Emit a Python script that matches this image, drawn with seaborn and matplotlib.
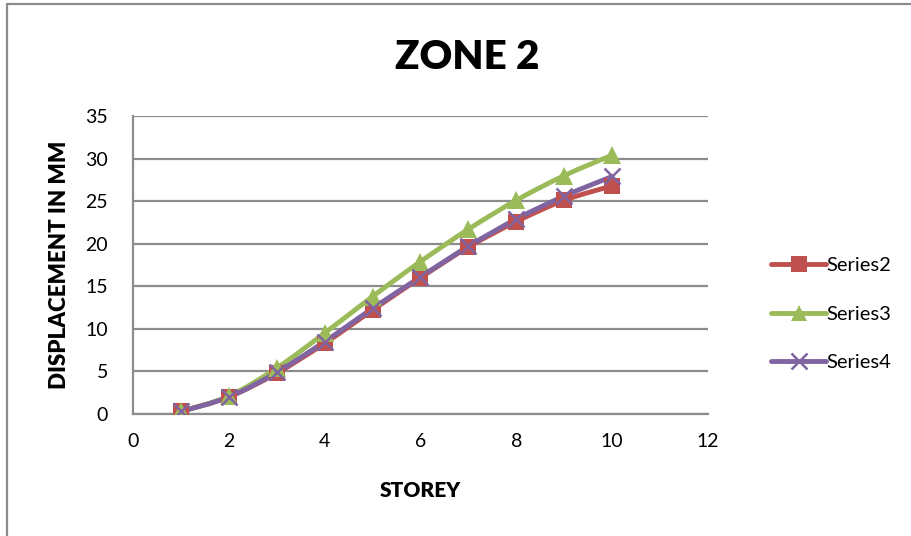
import numpy as np
import pandas as pd
import matplotlib
matplotlib.use("Agg")
import matplotlib.pyplot as plt
from matplotlib.path import Path
from matplotlib.patches import PathPatch
from matplotlib.lines import Line2D
import seaborn as sns

# Storey-wise displacement (mm) for ZONE 2
storey = [1, 2, 3, 4, 5, 6, 7, 8, 9, 10]
series2 = [0.3, 2.0, 4.8, 8.3, 12.2, 16.0, 19.6, 22.6, 25.1, 26.8]
series3 = [0.3, 2.1, 5.4, 9.5, 13.8, 17.9, 21.7, 25.1, 28.0, 30.4]
series4 = [0.3, 2.0, 4.9, 8.5, 12.4, 16.1, 19.7, 22.9, 25.6, 27.9]

names = ["Series2", "Series3", "Series4"]
colors = {"Series2": "#C0504D", "Series3": "#9BBB59", "Series4": "#8064A2"}
markers = {"Series2": "s", "Series3": "^", "Series4": "x"}
msizes = {"Series2": 12, "Series3": 13, "Series4": 12}

df = pd.DataFrame({
    "Storey": storey * 3,
    "Displacement": series2 + series3 + series4,
    "Series": [n for n in names for _ in storey],
})

sns.set_theme(style="white")
plt.rcParams["font.family"] = ["Lato", "DejaVu Sans"]
plt.rcParams["text.color"] = "black"

fig = plt.figure(figsize=(9.12, 5.36), dpi=100)
ax = fig.add_axes([0.1458, 0.2276, 0.6305, 0.556])

def smooth_path(xs, ys, tension=1 / 6):
    """Cubic Bezier path through the points (Catmull-Rom style control points)."""
    pts = np.column_stack([xs, ys]).astype(float)
    verts = [pts[0]]
    codes = [Path.MOVETO]
    n = len(pts)
    for i in range(n - 1):
        p0 = pts[i - 1] if i > 0 else pts[i]
        p1 = pts[i]
        p2 = pts[i + 1]
        p3 = pts[i + 2] if i + 2 < n else pts[i + 1]
        c1 = p1 + (p2 - p0) * tension
        c2 = p2 - (p3 - p1) * tension
        verts += [c1, c2, p2]
        codes += [Path.CURVE4] * 3
    return Path(verts, codes)

LW = 3.5

# smoothed connecting lines
for name in names:
    sub = df[df["Series"] == name]
    patch = PathPatch(smooth_path(sub["Storey"].values, sub["Displacement"].values),
                      facecolor="none", edgecolor=colors[name], lw=LW,
                      capstyle="round", joinstyle="round", zorder=3)
    ax.add_patch(patch)

# point markers
for name in names:
    sub = df[df["Series"] == name]
    kw = dict(color=colors[name], linestyle="none", marker=markers[name],
              markersize=msizes[name], markerfacecolor=colors[name],
              markeredgecolor=colors[name], zorder=4)
    kw["markeredgewidth"] = 1.8 if markers[name] == "x" else 0
    sns.lineplot(data=sub, x="Storey", y="Displacement", ax=ax,
                 legend=False, errorbar=None, **kw)

ax.set_xlim(0, 12)
ax.set_ylim(0, 35)
ax.set_xticks(range(0, 13, 2))
ax.set_yticks(range(0, 36, 5))
ax.yaxis.grid(True, color="#8C8C8C", lw=1.6)
ax.xaxis.grid(False)
ax.set_axisbelow(True)
for side in ["top", "right"]:
    ax.spines[side].set_visible(False)
for side in ["left", "bottom"]:
    ax.spines[side].set_color("#8C8C8C")
    ax.spines[side].set_linewidth(1.6)
ax.tick_params(axis="both", length=0, labelsize=14, colors="black")
ax.tick_params(axis="y", pad=18)
ax.tick_params(axis="x", pad=14)

ax.set_xlabel("STOREY", fontsize=15, fontweight="heavy", labelpad=22, color="black")
ax.set_ylabel("DISPLACEMENT IN MM", fontsize=16, fontweight="heavy", labelpad=11,
              color="black")

fig.text(0.512, 0.893, "ZONE 2", ha="center", va="center",
         fontsize=29, fontweight="heavy", color="black")

handles = [Line2D([0], [0], color=colors[n], lw=LW, marker=markers[n],
                  markersize=msizes[n] - 1, markerfacecolor=colors[n],
                  markeredgecolor=colors[n],
                  markeredgewidth=1.8 if markers[n] == "x" else 0)
           for n in names]
leg = fig.legend(handles, names, loc="center left",
                 bbox_to_anchor=(0.826, 0.414), frameon=False,
                 fontsize=14.5, handlelength=2.7, handletextpad=0.05,
                 labelspacing=1.55)

# chart-area outline
fig.add_artist(plt.Rectangle((0.0077, -0.02), 1.2, 1.012, transform=fig.transFigure,
                             fill=False, edgecolor="#8C8C8C", lw=1.6))

fig.savefig("out.png", dpi=100)
